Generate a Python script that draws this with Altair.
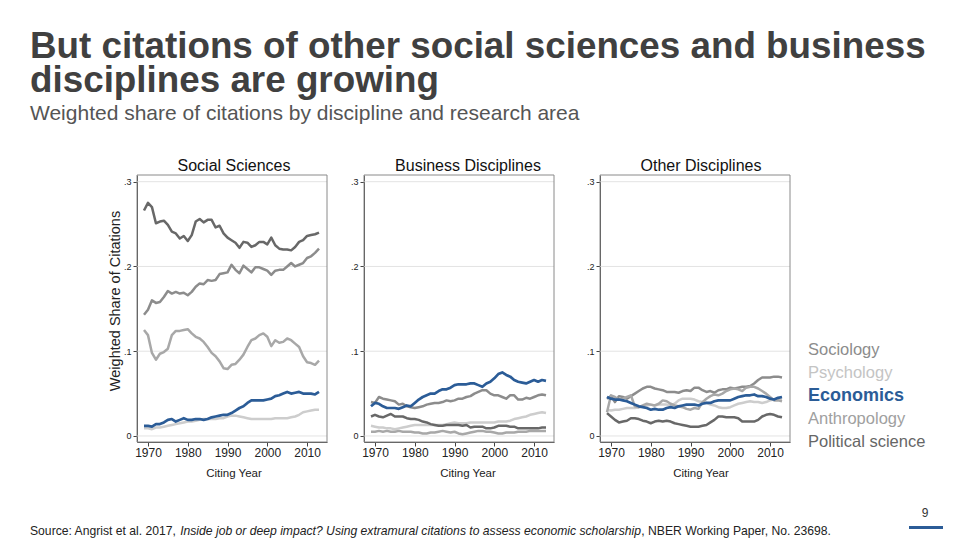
import altair as alt
import pandas as pd

# ---------------- data ----------------
YEARS = list(range(1969, 2014))
PANELS = ["Social Sciences", "Business Disciplines", "Other Disciplines"]
DISCIPLINES = ["Sociology", "Psychology", "Economics", "Anthropology", "Political science"]
COLORS = ["#8c8c8c", "#cdcdcd", "#2b5c97", "#a8a8a8", "#686868"]
LEGEND_COLORS = ["#8c8c8c", "#c4c4c4", "#2b5c97", "#a0a0a0", "#666666"]
X_TICKS = [1970, 1980, 1990, 2000, 2010]
Y_TICKS = [0, 0.1, 0.2, 0.3]

SOC_POLI = [.266, .275, .270, .251, .253, .254, .249, .241, .239, .233,
            .236, .230, .237, .253, .256, .252, .255, .255, .246, .248,
            .239, .234, .231, .228, .222, .229, .228, .223, .225, .229,
            .229, .226, .234, .225, .221, .220, .220, .219, .223, .229,
            .231, .236, .237, .238, .240]
SOC_SOCI = [.143, .149, .160, .157, .158, .164, .171, .168, .170, .168,
            .169, .166, .170, .176, .180, .179, .184, .183, .184, .191,
            .192, .193, .202, .196, .192, .201, .197, .193, .199, .199,
            .197, .195, .190, .195, .196, .196, .200, .204, .200, .202,
            .204, .210, .212, .216, .221]
SOC_ANTH = [.125, .119, .098, .090, .097, .099, .103, .119, .124, .124,
            .125, .126, .121, .117, .115, .111, .105, .098, .094, .088,
            .080, .079, .084, .085, .090, .096, .105, .113, .115, .119,
            .121, .117, .106, .113, .110, .111, .115, .113, .109, .105,
            .094, .087, .086, .084, .089]
SOC_ECON = [.012, .012, .011, .014, .014, .016, .019, .020, .017, .019,
            .021, .019, .019, .020, .020, .019, .020, .022, .023, .024,
            .025, .025, .027, .030, .033, .035, .039, .042, .042, .042,
            .042, .043, .044, .047, .048, .050, .052, .050, .051, .052,
            .050, .050, .050, .049, .052]
SOC_PSYC = [.009, .009, .008, .010, .010, .011, .012, .013, .014, .015,
            .016, .017, .017, .018, .019, .020, .020, .020, .020, .021,
            .021, .023, .024, .024, .023, .022, .021, .020, .020, .020,
            .020, .020, .020, .021, .021, .021, .021, .022, .023, .025,
            .028, .029, .030, .031, .031]

BUS_ECON = [.035, .039, .038, .035, .033, .033, .033, .032, .034, .036,
            .035, .039, .043, .046, .048, .050, .050, .053, .055, .055,
            .057, .060, .061, .061, .061, .062, .062, .060, .058, .062,
            .064, .068, .073, .075, .072, .070, .066, .064, .063, .062,
            .064, .066, .064, .066, .065]
BUS_SOCI = [.040, .039, .046, .044, .043, .042, .041, .037, .038, .035,
            .034, .033, .034, .035, .037, .038, .039, .039, .040, .042,
            .041, .042, .044, .044, .046, .047, .050, .052, .054, .054,
            .050, .048, .048, .046, .044, .048, .048, .043, .043, .045,
            .044, .046, .048, .049, .048]
BUS_POLI = [.023, .025, .023, .022, .024, .026, .023, .023, .023, .021,
            .020, .020, .019, .017, .016, .014, .013, .012, .012, .013,
            .013, .013, .013, .012, .013, .010, .011, .011, .011, .009,
            .009, .010, .012, .012, .012, .011, .011, .009, .009, .009,
            .009, .009, .009, .010, .010]
BUS_PSYC = [.012, .011, .010, .010, .009, .009, .008, .009, .010, .011,
            .012, .013, .013, .013, .013, .013, .013, .013, .013, .014,
            .015, .016, .015, .015, .015, .016, .016, .016, .016, .016,
            .016, .016, .017, .017, .017, .018, .020, .021, .022, .023,
            .025, .026, .027, .028, .027]
BUS_ANTH = [.005, .005, .006, .005, .006, .005, .005, .006, .005, .005,
            .005, .004, .004, .003, .003, .004, .004, .005, .006, .005,
            .004, .005, .003, .002, .003, .004, .005, .006, .006, .005,
            .005, .004, .003, .003, .004, .004, .004, .005, .005, .005,
            .006, .006, .006, .006, .006]

OTH_ECON = [.046, .044, .043, .043, .042, .041, .039, .037, .035, .034,
            .033, .031, .032, .031, .031, .033, .034, .033, .035, .036,
            .037, .037, .037, .036, .038, .039, .039, .041, .042, .042,
            .042, .042, .044, .046, .047, .048, .048, .049, .047, .047,
            .046, .044, .043, .045, .046]
OTH_SOCI = [.044, .047, .040, .047, .046, .044, .047, .050, .053, .056,
            .058, .058, .056, .055, .054, .052, .052, .052, .051, .053,
            .054, .053, .057, .057, .054, .052, .053, .051, .054, .055,
            .055, .057, .056, .057, .058, .058, .059, .062, .066, .069,
            .069, .069, .070, .070, .069]
OTH_ANTH = [.028, .048, .046, .043, .044, .046, .048, .035, .034, .036,
            .038, .037, .036, .038, .042, .041, .038, .036, .035, .034,
            .032, .031, .033, .032, .040, .044, .047, .049, .048, .050,
            .053, .055, .056, .055, .053, .057, .058, .058, .056, .053,
            .050, .046, .042, .042, .041]
OTH_PSYC = [.031, .030, .031, .031, .032, .033, .033, .033, .034, .035,
            .036, .037, .036, .037, .037, .037, .036, .038, .042, .044,
            .044, .044, .043, .041, .040, .039, .037, .036, .034, .033,
            .033, .034, .036, .038, .039, .040, .041, .040, .040, .039,
            .040, .042, .043, .044, .044]
OTH_POLI = [.027, .023, .019, .016, .017, .018, .021, .021, .020, .018,
            .017, .015, .017, .018, .017, .018, .017, .015, .014, .013,
            .012, .011, .011, .011, .012, .013, .016, .019, .023, .023,
            .022, .022, .022, .021, .017, .017, .017, .017, .019, .023,
            .025, .026, .025, .023, .022]

SERIES = {
    "Social Sciences": {"Sociology": SOC_SOCI, "Psychology": SOC_PSYC, "Economics": SOC_ECON,
                        "Anthropology": SOC_ANTH, "Political science": SOC_POLI},
    "Business Disciplines": {"Sociology": BUS_SOCI, "Psychology": BUS_PSYC, "Economics": BUS_ECON,
                             "Anthropology": BUS_ANTH, "Political science": BUS_POLI},
    "Other Disciplines": {"Sociology": OTH_SOCI, "Psychology": OTH_PSYC, "Economics": OTH_ECON,
                          "Anthropology": OTH_ANTH, "Political science": OTH_POLI},
}

TITLE_1 = "But citations of other social sciences and business"
TITLE_2 = "disciplines are growing"
SUBTITLE = "Weighted share of citations by discipline and research area"
Y_TITLE = "Weighted Share of Citations"
X_TITLE = "Citing Year"
SRC_A = "Source: Angrist et al. 2017, "
SRC_B = "Inside job or deep impact? Using extramural citations to assess economic scholarship"
SRC_C = ", NBER Working Paper, No. 23698."
PAGE_NO = "9"

rows = []
for p in PANELS:
    for d in DISCIPLINES:
        for y, v in zip(YEARS, SERIES[p][d]):
            rows.append({"panel": p, "discipline": d, "year": y, "share": v})
df = pd.DataFrame(rows)

# ---------------- layout (chart coordinates = page - 8) ----------------
W, H = 944, 532
PW = 190
PLEFT = [129, 356, 592]
TITLE_CX = [226, 460, 693]
PT, PB = 167, 434
XDOM = [1967.24, 2015.01]
YDOM = [-0.0071, 0.3079]
FONT = "Liberation Sans"

# Arial / Liberation Sans advance widths (1/1000 em) for measuring the mixed-style footer
AW = {' ': 278, '.': 278, ',': 278, ':': 278, '?': 556, '0': 556, '1': 556, '2': 556, '3': 556,
      '4': 556, '5': 556, '6': 556, '7': 556, '8': 556, '9': 556,
      'A': 667, 'B': 667, 'E': 667, 'I': 278, 'N': 722, 'P': 667, 'R': 722, 'S': 667, 'U': 722, 'W': 944,
      'a': 556, 'b': 556, 'c': 500, 'd': 556, 'e': 556, 'f': 278, 'g': 556, 'h': 556, 'i': 222,
      'j': 222, 'k': 500, 'l': 222, 'm': 833, 'n': 556, 'o': 556, 'p': 556, 'r': 333, 's': 500,
      't': 278, 'u': 556, 'v': 500, 'w': 722, 'x': 500, 'y': 500}


def tw(s, size):
    return sum(AW.get(c, 556) for c in s) * size / 1000.0


FOOT_SIZE = min(802.0 / (tw(SRC_A + SRC_B + SRC_C, 1000) / 1000.0), 12.5)

color_scale = alt.Scale(domain=DISCIPLINES, range=COLORS)


def text_layer(text, x, y, size, color, weight="normal", style="normal", align="left",
               baseline="alphabetic", angle=0):
    return alt.Chart(alt.Data(values=[{"t": text}])).mark_text(
        align=align, baseline=baseline, fontSize=size, color=color, fontWeight=weight,
        fontStyle=style, angle=angle, font=FONT).encode(
        text="t:N", x=alt.value(x), y=alt.value(y))


def panel(i, name):
    L = PLEFT[i]
    xs = alt.Scale(domain=XDOM, range=[L, L + PW], nice=False, zero=False)
    ys = alt.Scale(domain=YDOM, range=[PB, PT], nice=False, zero=False)
    xaxis = alt.Axis(values=X_TICKS, format="d", grid=False, orient="bottom", offset=-(H - PB),
                     title=None, labelFontSize=12, labelColor="#222", labelFont=FONT,
                     tickSize=4, tickColor="#444", domainColor="#444", labelPadding=1,
                     labelFlush=False, labelOverlap=False)
    yaxis = alt.Axis(values=Y_TICKS, grid=False, orient="left", offset=-L, title=None,
                     labelExpr="datum.value == 0 ? '0' : '.' + format(datum.value * 10, 'd')",
                     labelFontSize=9, labelColor="#222", labelFont=FONT, tickSize=4,
                     tickColor="#444", domainColor="#444", labelPadding=2,
                     labelFlush=False, labelOverlap=False)
    sub = df[df.panel == name]
    grid = alt.Chart(pd.DataFrame({"v": Y_TICKS})).mark_rule(color="#e3e3e3", strokeWidth=1).encode(
        y=alt.Y("v:Q", scale=ys, axis=yaxis), x=alt.value(L), x2=alt.value(L + PW))
    frame = alt.Chart(alt.Data(values=[{}])).mark_rect(
        fill="transparent", stroke="#8a8a8a", strokeWidth=1).encode(
        x=alt.value(L), x2=alt.value(L + PW), y=alt.value(PT), y2=alt.value(PB))
    enc = dict(x=alt.X("year:Q", scale=xs, axis=xaxis),
               y=alt.Y("share:Q", scale=ys, axis=yaxis),
               color=alt.Color("discipline:N", scale=color_scale, legend=None))
    grey = alt.Chart(sub[sub.discipline != "Economics"]).mark_line(
        strokeWidth=2.5, strokeJoin="round").encode(**enc)
    blue = alt.Chart(sub[sub.discipline == "Economics"]).mark_line(
        strokeWidth=2.7, strokeJoin="round").encode(**enc)
    cx = TITLE_CX[i]
    ttl = text_layer(name, cx, 163, 16, "#111", align="center")
    xt = text_layer(X_TITLE, cx, 469, 11.5, "#222", align="center")
    return alt.layer(grid, frame, grey, blue, ttl, xt)


layers = [panel(i, p) for i, p in enumerate(PANELS)]

# headline and subtitle
layers.append(text_layer(TITLE_1, 22, 50, 36.8, "#404040", weight="bold"))
layers.append(text_layer(TITLE_2, 22, 84, 36.8, "#404040", weight="bold"))
layers.append(text_layer(SUBTITLE, 22, 112, 21, "#555555"))
# y-axis title
layers.append(text_layer(Y_TITLE, 108, 293, 14.5, "#222", align="center", baseline="middle", angle=270))
# legend (coloured text)
for k, (d, c) in enumerate(zip(DISCIPLINES, LEGEND_COLORS)):
    bold = d == "Economics"
    layers.append(text_layer(d, 800, 342 + 23 * k, 18 if bold else 16.5, c,
                             weight="bold" if bold else "normal", baseline="middle"))
# footer
FY = 527
fx = 22
layers.append(text_layer(SRC_A, fx, FY, FOOT_SIZE, "#222"))
fx += tw(SRC_A, FOOT_SIZE)
layers.append(text_layer(SRC_B, fx, FY, FOOT_SIZE, "#222", style="italic"))
fx += tw(SRC_B, FOOT_SIZE)
layers.append(text_layer(SRC_C, fx, FY, FOOT_SIZE, "#222"))
# page number and accent bar
layers.append(text_layer(PAGE_NO, 917, 509, 12, "#333", align="center"))
layers.append(alt.Chart(alt.Data(values=[{}])).mark_rect(color="#2b5c97").encode(
    x=alt.value(901), x2=alt.value(935), y=alt.value(518), y2=alt.value(521)))

chart = alt.layer(*layers).resolve_scale(x="independent", y="independent").properties(
    width=W, height=H, autosize=alt.AutoSizeParams(type="none"), padding=0,
).configure_view(strokeWidth=0)

chart.save("out.html", embed_options={"renderer": "svg", "actions": False})
